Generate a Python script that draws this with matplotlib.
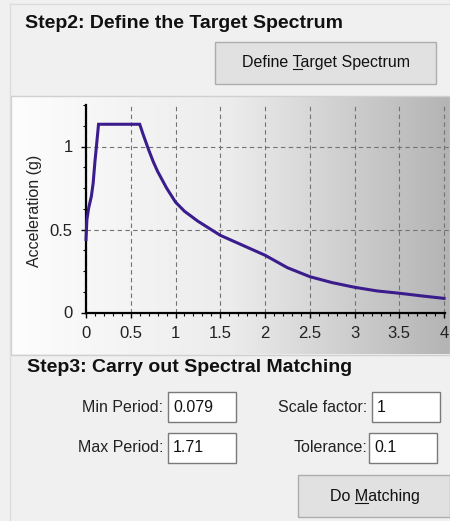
import numpy as np
import matplotlib
matplotlib.use("Agg")
import matplotlib.pyplot as plt
from matplotlib.patches import Rectangle
from matplotlib.lines import Line2D
from matplotlib.colors import LinearSegmentedColormap
from matplotlib.ticker import MultipleLocator, FixedLocator, FixedFormatter

# target spectrum
period = [0.0, 0.01, 0.03, 0.06, 0.08, 0.10, 0.12, 0.14, 0.60, 0.64, 0.70,
          0.75, 0.80, 0.85, 0.90, 1.0, 1.1, 1.25, 1.5, 1.75, 2.0, 2.25,
          2.5, 2.75, 3.0, 3.25, 3.5, 3.75, 4.0]
accel = [0.44, 0.56, 0.63, 0.70, 0.78, 0.91, 1.02, 1.134, 1.134, 1.07, 0.98,
         0.91, 0.85, 0.80, 0.75, 0.665, 0.61, 0.55, 0.465, 0.405, 0.345,
         0.27, 0.216, 0.18, 0.152, 0.13, 0.116, 0.10, 0.085]

x_ticks = [0, 0.5, 1, 1.5, 2, 2.5, 3, 3.5, 4]
x_tick_labels = ["0", "0.5", "1", "1.5", "2", "2.5", "3", "3.5", "4"]
y_ticks = [0, 0.5, 1]
y_tick_labels = ["0", "0.5", "1"]
y_label = "Acceleration (g)"

step2_title = "Step2: Define the Target Spectrum"
step3_title = "Step3: Carry out Spectral Matching"
field_names = ["Min Period:", "Max Period:", "Scale factor:", "Tolerance:"]
field_values = ["0.079", "1.71", "1", "0.1"]

FONT = "Liberation Sans"
W, H = 450, 521

fig = plt.figure(figsize=(W / 100, H / 100), dpi=100)
fig.patch.set_facecolor("#f0f0f0")


def fx(x):
    return x / W


def fy(y):
    return 1 - y / H


def box(x0, y0, x1, y1, fc, ec, lw=1.0, z=1):
    r = Rectangle((fx(x0), fy(y1)), (x1 - x0) / W, (y1 - y0) / H,
                  transform=fig.transFigure, facecolor=fc, edgecolor=ec,
                  linewidth=lw, zorder=z)
    fig.patches.append(r)


def hline(x0, x1, y, color, lw=1.0):
    fig.add_artist(Line2D([fx(x0), fx(x1)], [fy(y), fy(y)],
                          transform=fig.transFigure, color=color, lw=lw))


def vline(x, y0, y1, color, lw=1.0):
    fig.add_artist(Line2D([fx(x), fx(x)], [fy(y0), fy(y1)],
                          transform=fig.transFigure, color=color, lw=lw))


def button_text(cx, cy, before, key, after, size=11.5):
    # centred label with the windows mnemonic underline under `key`
    t = fig.text(fx(cx), fy(cy), before + key + after, ha="center",
                 va="center", fontsize=size, family=FONT, color="#111111")
    r = fig.canvas.get_renderer()
    bb = t.get_window_extent(r)
    tmp = fig.text(0, 0, key, fontsize=size, family=FONT)
    w_key = tmp.get_window_extent(r).width
    tmp.set_text(before + key)
    w_end = tmp.get_window_extent(r).width
    tmp.remove()
    x_a = bb.x0 + w_end - w_key
    x_b = bb.x0 + w_end
    yy = bb.y0 + 2.0
    inv = fig.transFigure.inverted()
    (a, b), (c, d) = inv.transform([(x_a, yy), (x_b, yy)])
    fig.add_artist(Line2D([a, c], [b, d], transform=fig.transFigure,
                          color="#111111", lw=0.8))


# group box frame
vline(10, 4, 521, "#dcdcdc")
hline(10, 450, 4, "#dcdcdc")

fig.text(fx(25), fy(23), step2_title, ha="left", va="center",
         fontsize=14, fontweight="bold", family=FONT, color="#111111")

# "Define Target Spectrum" button
box(215, 42, 436, 84, "#e1e1e1", "#adadad")
button_text(326, 63, "Define ", "T", "arget Spectrum")

# chart panel with grey gradient
box(11, 96, 450, 355, "none", "#d0d0d0", z=0)
bg = fig.add_axes([fx(12), fy(354), 438 / W, 257 / H])
cmap = LinearSegmentedColormap.from_list("panel", ["#fdfdfd", "#ececec", "#b4b4b4"])
bg.imshow(np.linspace(0, 1, 256).reshape(1, -1), cmap=cmap, aspect="auto",
          extent=[0, 1, 0, 1])
bg.set_axis_off()

ax = fig.add_axes([fx(86), fy(312.5), 363.4 / W, 207.5 / H])
ax.patch.set_alpha(0)
ax.plot(period, accel, color="#3b1c8c", lw=2.2, clip_on=False, zorder=5,
        solid_joinstyle="miter")
ax.set_xlim(0, 4.06)
ax.set_ylim(0, 1.25)

for s in ["top", "right"]:
    ax.spines[s].set_visible(False)
for s in ["left", "bottom"]:
    ax.spines[s].set_linewidth(1.6)
    ax.spines[s].set_color("black")
ax.spines["bottom"].set_bounds(0, 4.01)

ax.xaxis.set_major_locator(FixedLocator(x_ticks))
ax.xaxis.set_major_formatter(FixedFormatter(x_tick_labels))
ax.xaxis.set_minor_locator(MultipleLocator(0.1))
ax.yaxis.set_major_locator(FixedLocator(y_ticks))
ax.yaxis.set_major_formatter(FixedFormatter(y_tick_labels))
ax.yaxis.set_minor_locator(MultipleLocator(0.125))
ax.tick_params(which="major", length=3.5, width=1, pad=6, labelsize=12,
               labelcolor="#222222")
ax.tick_params(which="minor", length=2, width=0.8)
for lbl in ax.get_xticklabels() + ax.get_yticklabels():
    lbl.set_family(FONT)

ax.grid(True, which="major", color="#737373", lw=0.8, linestyle=(0, (4, 3)))
ax.set_axisbelow(True)
ax.set_ylabel(y_label, fontsize=11.5, family=FONT, color="#222222")
ax.yaxis.set_label_coords(fx(42 - 86) * W / 363.4, 0.49)

# Step3 group
fig.text(fx(27), fy(368), step3_title, ha="left", va="center",
         fontsize=14, fontweight="bold", family=FONT, color="#111111")

label_right = [163, 163, 367, 367]
box_left = [168, 168, 372, 369]
row_y = [407, 448, 407, 448]
for name, val, lr, bl, ry in zip(field_names, field_values, label_right,
                                 box_left, row_y):
    fig.text(fx(lr), fy(ry), name, ha="right", va="center", fontsize=11.5,
             family=FONT, color="#222222")
    box(bl, ry - 15, bl + 68, ry + 15, "white", "#7a7a7a")
    fig.text(fx(bl + 5), fy(ry), val, ha="left", va="center", fontsize=11.5,
             family=FONT, color="#111111")

# "Do Matching" button
box(298, 475, 450, 517, "#e1e1e1", "#adadad")
button_text(375, 497, "Do ", "M", "atching")

fig.savefig("out.png", dpi=100, facecolor=fig.get_facecolor())
